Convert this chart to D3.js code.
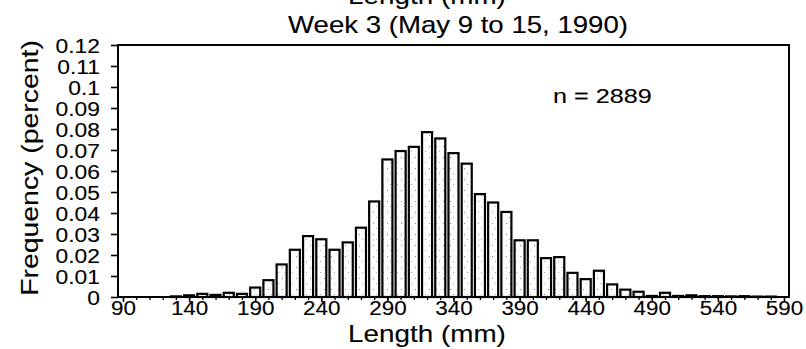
<!DOCTYPE html>
<html><head><meta charset="utf-8">
<script src="https://cdn.jsdelivr.net/npm/d3@7/dist/d3.min.js"></script>
<style>
html,body{margin:0;padding:0;background:#fff;}
svg{display:block;}
text{font-family:"Liberation Sans",Arial,Helvetica,sans-serif;fill:#000;stroke:#000;stroke-width:0.12px;}
</style></head>
<body>
<script>
// ---- data ----
const lengths = [90,100,110,120,130,140,150,160,170,180,190,200,210,220,230,240,250,260,270,280,290,300,310,320,330,340,350,360,370,380,390,400,410,420,430,440,450,460,470,480,490,500,510,520,530,540,550,560,570,580,590];
const frequency = [0,0,0,0,0.0003,0.0008,0.0015,0.001,0.002,0.0015,0.0045,0.008,0.0155,0.0225,0.029,0.0275,0.0225,0.026,0.033,0.0455,0.0655,0.0695,0.0715,0.0785,0.0755,0.0685,0.0635,0.049,0.045,0.0405,0.027,0.027,0.0185,0.019,0.0115,0.0085,0.0125,0.006,0.0035,0.0025,0.0005,0.002,0.0005,0.0008,0.0004,0.0004,0.0003,0.0004,0.0002,0.0002,0];
const yTicks = [0,0.01,0.02,0.03,0.04,0.05,0.06,0.07,0.08,0.09,0.1,0.11,0.12];
const yTickLabels = ["0","0.01","0.02","0.03","0.04","0.05","0.06","0.07","0.08","0.09","0.1","0.11","0.12"];
const xMajorTicks = [90,140,190,240,290,340,390,440,490,540,590];
const titleText = "Week 3 (May 9 to 15, 1990)";
const xLabel = "Length (mm)";
const yLabel = "Frequency (percent)";
const nText = "n = 2889";

const W = 806, H = 349;
const frame = {left:118, right:789, top:45, bottom:297};

const svg = d3.select("body").append("svg").attr("width",W).attr("height",H);

// light stipple pattern for bar interiors
const defs = svg.append("defs");
const pat = defs.append("pattern").attr("id","stip").attr("patternUnits","userSpaceOnUse")
  .attr("width",7).attr("height",11);
pat.append("rect").attr("width",7).attr("height",11).attr("fill","#fff");
pat.append("rect").attr("x",2).attr("y",3).attr("width",1).attr("height",1).attr("fill","#888");
pat.append("rect").attr("x",5).attr("y",8).attr("width",1).attr("height",1).attr("fill","#aaa");

const x = d3.scaleLinear().domain([90,590]).range([123,784]);
const y = d3.scaleLinear().domain([0,0.12]).range([frame.bottom, frame.top]);

const binW = (x(100)-x(90))*0.76;

// bars
svg.append("g").selectAll("rect").data(lengths.map((l,i)=>({l, f:frequency[i]})).filter(d=>d.f>0))
  .enter().append("rect")
  .attr("x", d=>x(d.l)-binW/2)
  .attr("width", binW)
  .attr("y", d=>y(d.f))
  .attr("height", d=>frame.bottom - y(d.f))
  .attr("fill","url(#stip)").attr("stroke","#000").attr("stroke-width",2.2);

// frame
svg.append("rect").attr("x",frame.left).attr("y",frame.top)
  .attr("width",frame.right-frame.left).attr("height",frame.bottom-frame.top)
  .attr("fill","none").attr("stroke","#000").attr("stroke-width",2);

// y axis
const yAxis = d3.axisLeft(y).tickValues(yTicks).tickSize(7).tickPadding(4)
  .tickFormat((d,i)=>yTickLabels[i]);
const gy = svg.append("g").attr("transform",`translate(${frame.left},0)`).call(yAxis);
gy.select(".domain").remove();
gy.selectAll("line").attr("stroke","#000").attr("stroke-width",1.6);
gy.selectAll("text").attr("font-size",19.5).attr("font-family",null)
  .attr("text-anchor","end").attr("x",0).attr("y",0).attr("dy","0.36em")
  .attr("transform","translate(-18,0) scale(1.17,1)");

// x axis: minor ticks
const xMinor = d3.axisBottom(x).tickValues(lengths).tickSize(3).tickFormat("");
const gxm = svg.append("g").attr("transform",`translate(0,${frame.bottom})`).call(xMinor);
gxm.select(".domain").remove();
gxm.selectAll("line").attr("stroke","#000").attr("stroke-width",1.3);

const xAxis = d3.axisBottom(x).tickValues(xMajorTicks).tickSize(5).tickPadding(2).tickFormat(d3.format("d"));
const gx = svg.append("g").attr("transform",`translate(0,${frame.bottom})`).call(xAxis);
gx.select(".domain").remove();
gx.selectAll("line").attr("stroke","#000").attr("stroke-width",1.5);
gx.selectAll("text").attr("font-size",19.5).attr("font-family",null)
  .attr("y",0).attr("dy",null)
  .attr("transform","translate(0,18) scale(1.15,1)");

// titles
function label(txt, cx, cy, size, sx, rot){
  const g = svg.append("g").attr("transform",`translate(${cx},${cy})${rot?` rotate(${rot})`:""}`);
  g.append("text").attr("text-anchor","middle").attr("font-size",size)
   .attr("transform",`scale(${sx},1)`).text(txt);
}
label(xLabel, 427, 4, 24, 1.16);
label(titleText, 458, 33, 23, 1.2);
label(xLabel, 427, 342, 24, 1.16);
label(yLabel, 38, 168, 24.5, 1.16, -90);
svg.append("g").attr("transform","translate(553,103)")
  .append("text").attr("font-size",21).attr("transform","scale(1.2,1)").text(nText);
</script>
</body></html>
